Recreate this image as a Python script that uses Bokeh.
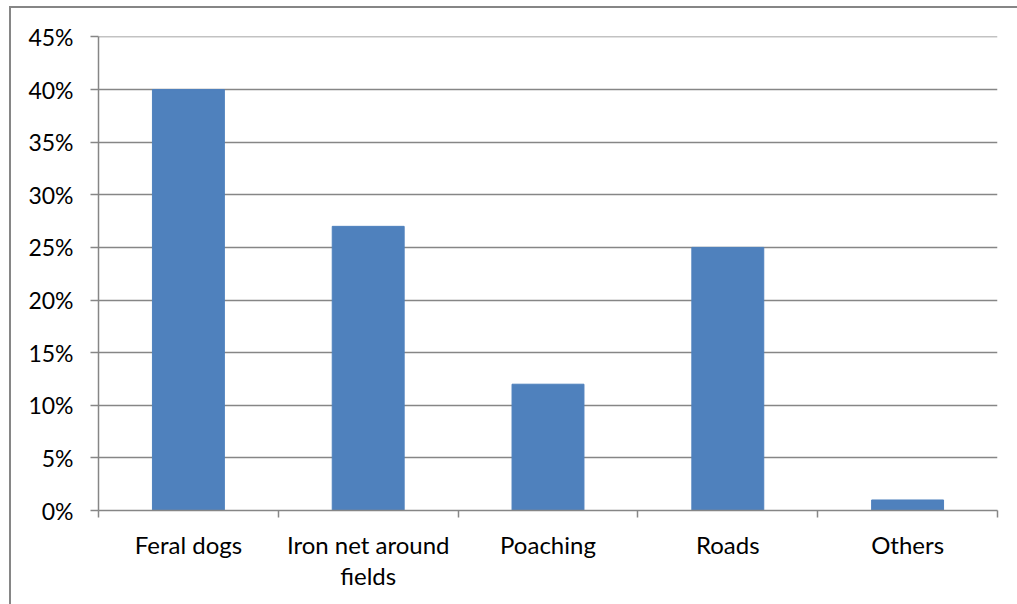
from bokeh.plotting import figure
from bokeh.models import Range1d, FixedTicker, NumeralTickFormatter, ColumnDataSource, InlineStyleSheet
from bokeh.embed import file_html
from bokeh.resources import INLINE

categories = ["Feral dogs", "Iron net around\nfields", "Poaching", "Roads", "Others"]
values = [0.40, 0.27, 0.12, 0.25, 0.01]
y_ticks = [0.0, 0.05, 0.10, 0.15, 0.20, 0.25, 0.30, 0.35, 0.40, 0.45]

xs = [i + 0.5 for i in range(len(categories))]
src = ColumnDataSource(dict(x=xs, top=values))

FONT = "Lato"
GRAY = "#868686"

p = figure(width=1017, height=604, output_backend="svg", toolbar_location=None,
           x_range=Range1d(0, len(categories)), y_range=Range1d(0, 0.4504),
           min_border_left=98, min_border_right=20, min_border_top=36, min_border_bottom=94)
p.outline_line_color = None
p.background_fill_color = "white"
p.border_fill_color = "white"

p.vbar(x="x", top="top", width=0.4, source=src, color="#4F81BD")

# x axis
p.xaxis.ticker = FixedTicker(ticks=xs, minor_ticks=list(range(len(categories) + 1)))
p.xaxis.major_label_overrides = {x: c for x, c in zip(xs, categories)}
p.xaxis.major_tick_out = 0
p.xaxis.major_tick_in = 0
p.xaxis.minor_tick_out = 7
p.xaxis.minor_tick_in = 0
p.xaxis.minor_tick_line_color = GRAY
p.xaxis.minor_tick_line_width = 1.5
p.xaxis.axis_line_color = GRAY
p.xaxis.axis_line_width = 1.5
p.xaxis.major_label_text_font = FONT
p.xaxis.major_label_text_font_size = "24px"
p.xaxis.major_label_text_color = "black"
p.xaxis.major_label_text_line_height = 1.1
p.xaxis.major_label_standoff = 12
p.xgrid.grid_line_color = None

# y axis
p.yaxis.ticker = FixedTicker(ticks=y_ticks)
p.yaxis.formatter = NumeralTickFormatter(format="0%")
p.yaxis.major_tick_out = 8
p.yaxis.major_tick_in = 0
p.yaxis.minor_tick_line_color = None
p.yaxis.major_tick_line_color = GRAY
p.yaxis.major_tick_line_width = 1.5
p.yaxis.axis_line_color = GRAY
p.yaxis.axis_line_width = 1.5
p.yaxis.major_label_text_font = FONT
p.yaxis.major_label_text_font_size = "23px"
p.yaxis.major_label_text_color = "black"
p.yaxis.major_label_standoff = 17
p.ygrid.grid_line_color = GRAY
p.ygrid.grid_line_width = 1.5

# outer chart border (left and top edges visible in the window)
p.stylesheets = [InlineStyleSheet(css="""
:host::after {
  content: "";
  position: absolute;
  left: 9px; top: 6px; right: -20px; bottom: -20px;
  border: 2px solid #868686;
  pointer-events: none;
  z-index: 100;
}
""")]

open("out.html", "w").write(file_html(p, INLINE))
